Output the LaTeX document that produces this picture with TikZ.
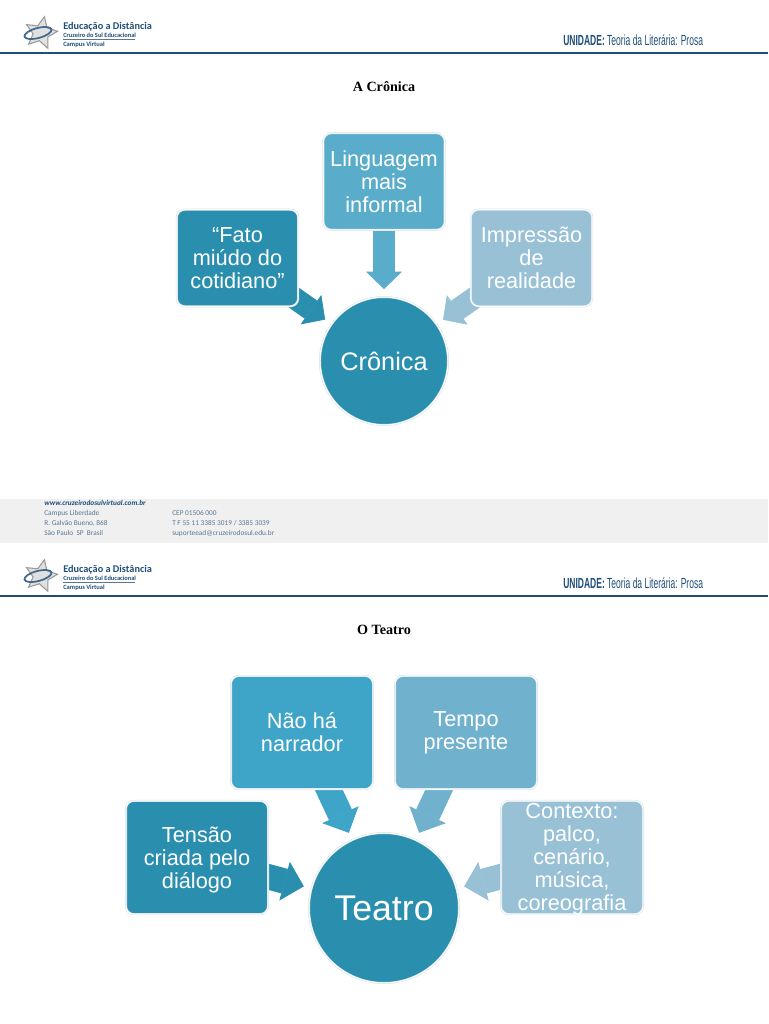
\documentclass[tikz,border=0pt]{standalone}
\usepackage{fontspec}
\setmainfont{Liberation Sans}
\newfontfamily\logofont{Carlito}
\newfontfamily\titlefont{Liberation Serif}
\usetikzlibrary{positioning,arrows.meta,shapes.geometric,backgrounds}
\definecolor{ink}{HTML}{1F4E79}
\definecolor{muted}{HTML}{5B7690}
\definecolor{footbg}{HTML}{F0F0F0}
\definecolor{halo}{HTML}{D3E2E8}
\definecolor{tealA}{HTML}{2A8FAE}
\definecolor{tealB}{HTML}{3FA5C8}
\definecolor{tealC}{HTML}{5AADCA}
\definecolor{tealD}{HTML}{70B1CE}
\definecolor{tealE}{HTML}{98C1D6}
\tikzset{
  x=0.75pt, y=-0.75pt,
  card/.style={rectangle, rounded corners=6pt, draw=halo, line width=0.4pt, double=white, double distance=0.7pt,
               inner sep=0pt, outer sep=0pt, text=white, align=center, minimum width=91pt, minimum height=72.5pt,
               font=\fontsize{16.3}{17.2}\selectfont},
  wide/.style={card, minimum width=106.5pt, minimum height=85pt},
  cardtext/.style={inner sep=0pt, text=white, align=center, font=\fontsize{16.3}{17.2}\selectfont},
  hub/.style={circle, draw=halo, line width=0.4pt, double=white, double distance=0.7pt, inner sep=0pt, outer sep=0pt,
              text=white, align=center},
  flow/.style={line width=#1, shorten >=6pt, shorten <=-6pt},
  smallflow/.style={flow=16.5pt, -{Triangle[length=13pt, width=27pt, line width=0.6pt]}},
  bigflow/.style={flow=19pt, -{Triangle[length=15pt, width=30pt, line width=0.6pt]}},
  foot/.style={anchor=base west, inner sep=0pt, text=muted, font=\logofont\fontsize{5.5}{6}\selectfont},
  pagetitle/.style={inner sep=0pt, font=\titlefont\bfseries\fontsize{10.6}{11}\selectfont},
}
\begin{document}
\begin{tikzpicture}
  \useasboundingbox (0,0) rectangle (768,1024);
  % both page heads
  \foreach \oy/\nm in {0/one, 543/two} {
    \draw[ink, line width=1.5pt] (0,53+\oy) -- (768,53+\oy);
    \node[star, star points=5, star point ratio=2.1, draw=black!40, fill=black!12, line width=0.8pt, inner sep=0pt,
          minimum size=25pt, rotate=-12] (star\nm) at (41,33+\oy) {};
    \draw[ink!85, line width=1.3pt, rotate around={15:(38,33+\oy)}] (38,33+\oy) ellipse (14 and 5);
    \node[anchor=west, inner sep=0pt, text=ink, font=\logofont\bfseries\fontsize{7.7}{9}\selectfont] (logo\nm) at (63,27+\oy) {Educação a Distância};
    \node[anchor=west, inner sep=0pt, text=ink, font=\logofont\bfseries\fontsize{4.8}{6}\selectfont] (sul\nm) at (63,35+\oy) {Cruzeiro do Sul Educacional};
    \draw[muted, line width=0.5pt] (63,39.5+\oy) -- (135,39.5+\oy);
    \node[anchor=west, inner sep=0pt, text=ink, font=\logofont\bfseries\fontsize{4.9}{6}\selectfont] (campus\nm) at (63,45+\oy) {Campus Virtual};
    \node[anchor=west, inner sep=0pt, text=ink, font=\fontsize{11}{12}\selectfont] (unit\nm) at (563,40+\oy)
      {\scalebox{0.58}[1]{\textbf{UNIDADE:} Teoria da Literária: Prosa}};
  }
  \node[pagetitle] (titlea) at (384,86.5) {A Crônica};
  \node[pagetitle] (titleb) at (384,629.5) {O Teatro};

  \node[foot, text=ink, font=\logofont\bfseries\itshape\fontsize{5.5}{6}\selectfont] (site) at (44,505.5) {www.cruzeirodosulvirtual.com.br};
  \node[foot] (campus) at (44,515.5) {Campus Liberdade};
  \node[foot] (street) at (44,525.5) {R. Galvão Bueno, 868};
  \node[foot] (city) at (44,535.5) {São Paulo\ \ SP\ \ Brasil};
  \node[foot] (cep) at (172,515.5) {CEP 01506 000};
  \node[foot] (phone) at (172,525.5) {T F 55 11 3385 3019 / 3385 3039};
  \node[foot] (mail) at (172,535.5) {suporteead@cruzeirodosul.edu.br};

  % first map
  \node[hub, fill=tealA, minimum size=96pt, font=\fontsize{19}{20}\selectfont] (cronica) at (384,361) {Crônica};
  \node[card, fill=tealA] (fato) at (237.5,258) {“Fato\\miúdo do\\cotidiano”};
  \node[card, fill=tealC] (linguagem) at (384,181.5) {Linguagem\\mais\\informal};
  \node[card, fill=tealE] (impressao) at (531.5,258) {Impressão\\de\\realidade};

  % second map
  \node[hub, fill=tealA, minimum size=112.5pt, font=\fontsize{26.8}{28}\selectfont] (teatro) at (384,908) {Teatro};
  \node[wide, fill=tealA] (tensao) at (197,857.5) {\rule{0pt}{15.5pt}Tensão\\criada pelo\\diálogo};
  \node[wide, fill=tealB] (narrador) at (302,732.5) {Não há\\narrador};
  \node[wide, fill=tealD] (tempo) at (466,732.5) {Tempo\\presente};
  \node[wide, fill=tealE] (contexto) at (572,857.5) {};
  \node[cardtext] (contextotext) at (572,859) {Contexto:\\palco,\\cenário,\\música,\\coreografia};

  \begin{scope}[on background layer]
    \fill[footbg] (0,499) rectangle (768,543);
    \draw[smallflow, tealA] (fato) -- (cronica);
    \draw[smallflow, tealC] (linguagem) -- (cronica);
    \draw[smallflow, tealE] (impressao) -- (cronica);
    \draw[bigflow, tealA] (tensao) -- (teatro);
    \draw[bigflow, tealB] (narrador) -- (teatro);
    \draw[bigflow, tealD] (tempo) -- (teatro);
    \draw[bigflow, tealE] (contexto) -- (teatro);
  \end{scope}
\end{tikzpicture}
\end{document}
